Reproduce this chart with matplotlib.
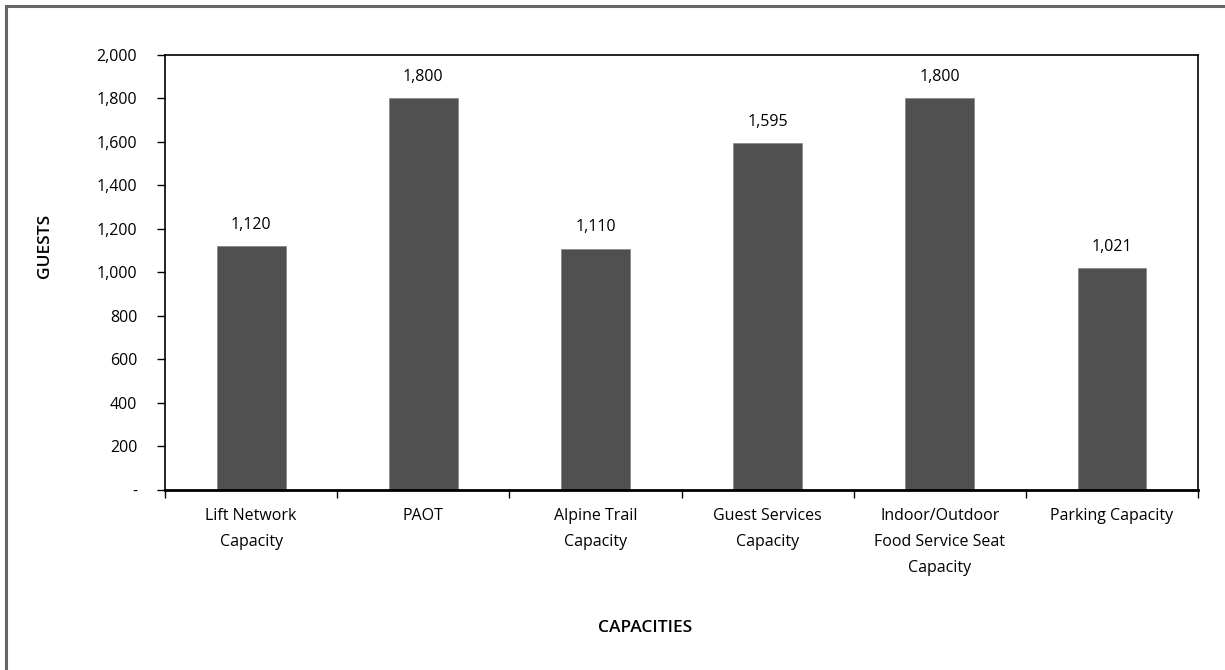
import matplotlib
matplotlib.use("Agg")
import matplotlib.pyplot as plt
from matplotlib.lines import Line2D
from matplotlib.ticker import FuncFormatter, FixedLocator

categories = [
    "Lift Network\nCapacity",
    "PAOT",
    "Alpine Trail\nCapacity",
    "Guest Services\nCapacity",
    "Indoor/Outdoor\nFood Service Seat\nCapacity",
    "Parking Capacity",
]
guests = [1120, 1800, 1110, 1595, 1800, 1021]
y_ticks = [0, 200, 400, 600, 800, 1000, 1200, 1400, 1600, 1800, 2000]

plt.rcParams["font.family"] = ["Open Sans", "DejaVu Sans"]
FS = 11.5

fig = plt.figure(figsize=(12.25, 6.7), dpi=100)
ax = fig.add_axes([0.1347, 0.2687, 0.8433, 0.6493])

x = list(range(len(categories)))
ax.bar(x, guests, width=0.4, color="#505050", edgecolor="#8a8a8a", linewidth=0.6)

ax.set_xlim(-0.5, len(categories) - 0.5)
ax.set_ylim(0, 2000)
ax.yaxis.set_major_locator(FixedLocator(y_ticks))
ax.yaxis.set_major_formatter(FuncFormatter(lambda v, p: "-" if v == 0 else f"{int(v):,}"))
ax.tick_params(axis="y", direction="out", length=6, width=1, labelsize=FS, pad=14, colors="black")

# category labels centered under bars, ticks at category boundaries
ax.set_xticks(x)
ax.set_xticklabels(categories, fontsize=FS, linespacing=1.85)
ax.tick_params(axis="x", which="major", length=0, pad=13)
ax.set_xticks([i - 0.5 for i in range(len(categories) + 1)], minor=True)
ax.tick_params(axis="x", which="minor", direction="out", length=6, width=1)

for s in ["top", "right", "left"]:
    ax.spines[s].set_linewidth(1.2)
ax.spines["bottom"].set_linewidth(2)

for xi, v in zip(x, guests):
    ax.text(xi, v + 60, f"{v:,}", ha="center", va="bottom", fontsize=FS)

fig.text(0.037, 0.633, "GUESTS", rotation=90, ha="center", va="center",
         fontsize=12.5, fontweight="semibold")
fig.text(0.527, 0.062, "CAPACITIES", ha="center", va="center",
         fontsize=12.5, fontweight="semibold")

# frame lines along the top and left edges
fig.add_artist(Line2D([0.0045, 0.0045], [0.0, 0.991], transform=fig.transFigure,
                      color="#666666", linewidth=2.2))
fig.add_artist(Line2D([0.0045, 1.0], [0.991, 0.991], transform=fig.transFigure,
                      color="#666666", linewidth=2.2))

fig.savefig("out.png", dpi=100)
